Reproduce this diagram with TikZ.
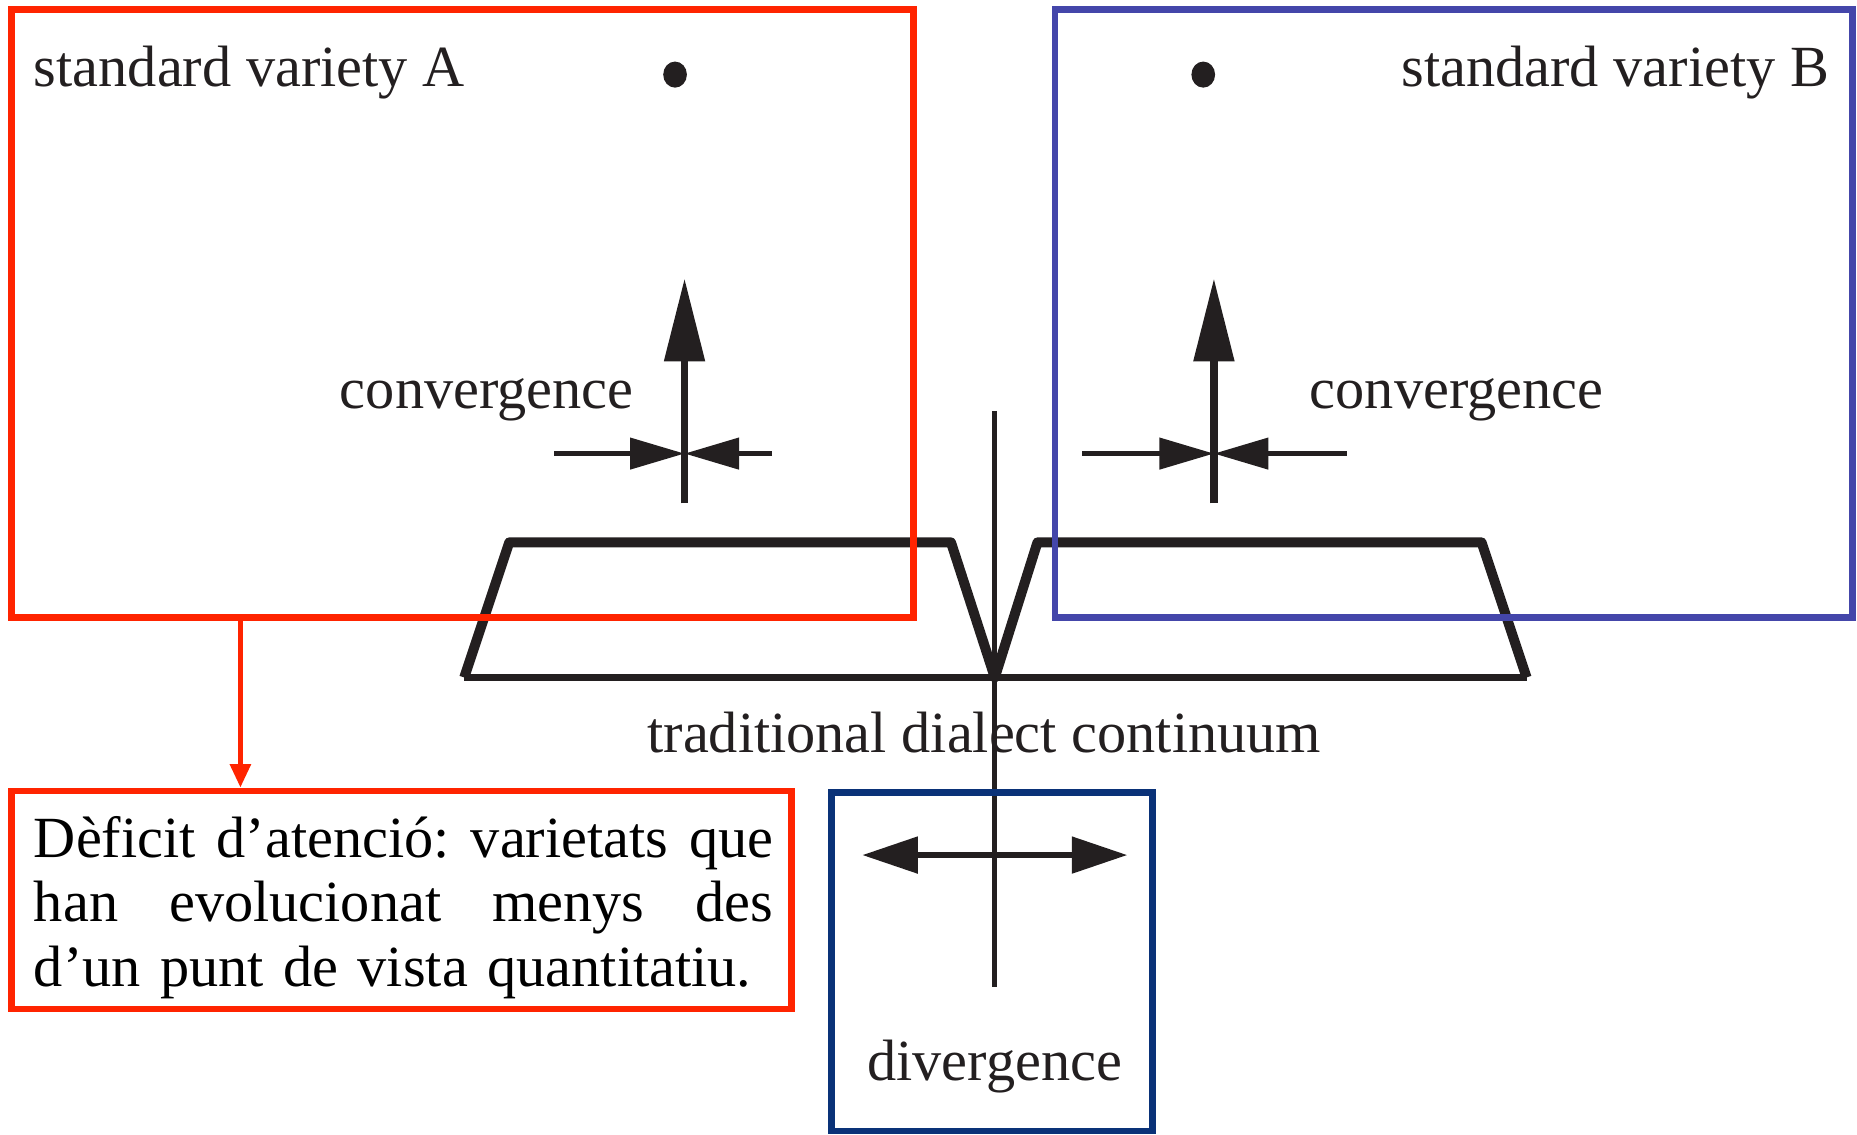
\documentclass[tikz,border=0pt]{standalone}
\usepackage{fontspec}
\setmainfont{Liberation Serif}
\usetikzlibrary{arrows.meta}

\definecolor{boxred}{RGB}{255,36,0}
\definecolor{boxblue}{RGB}{68,70,170}
\definecolor{boxnavy}{RGB}{10,50,120}
\definecolor{ink}{RGB}{35,31,32}

\begin{document}
\begin{tikzpicture}[x=0.01cm, y=-0.01cm,
    lbl/.style={font=\fontsize{14}{16}\selectfont, text=ink, inner sep=0pt},
    frame/.style={draw, line width=1.6pt, inner sep=0pt},
    rise/.style={ink, line width=1.9pt, -{Triangle[length=0.7cm, width=0.33cm]}},
    squeeze/.style={ink, line width=1.2pt, -{Triangle[length=0.46cm, width=0.26cm]}},
    spread/.style={ink, line width=1.6pt, {Triangle[length=0.47cm, width=0.3cm]}-{Triangle[length=0.47cm, width=0.3cm]}},
    pointer/.style={boxred, line width=1.3pt, -{Triangle[length=0.2cm, width=0.17cm]}}]
  \useasboundingbox (0,0) rectangle (1568,958);

  \coordinate (crossA) at (578,383);
  \coordinate (crossB) at (1025,383);
  \coordinate (crossD) at (840,722);
  \coordinate (drop) at (203,0);

  \draw[ink, line width=2.4pt, line join=round] (392,572) -- (430,458) -- (803,458) -- (840,572) -- (876,458) -- (1251,458) -- (1289,572);
  \draw[ink, line width=1.7pt] (392,572) -- (1289,572);
  \draw[ink, line width=1.2pt] (840,347) -- (840,833);

  \fill[ink] (570,63) ellipse [x radius=0.1cm, y radius=0.11cm];
  \fill[ink] (1016,63) ellipse [x radius=0.1cm, y radius=0.11cm];

  \draw[rise] (crossA) ++(0,42) -- ++(0,-190);
  \draw[squeeze] (crossA) ++(-110,0) -- (crossA);
  \draw[squeeze] (crossA) ++(74,0) -- (crossA);
  \draw[rise] (crossB) ++(0,42) -- ++(0,-190);
  \draw[squeeze] (crossB) ++(-111,0) -- (crossB);
  \draw[squeeze] (crossB) ++(112,0) -- (crossB);
  \draw[spread] (crossD) ++(-112,0) -- ++(224,0);

  \node[lbl, anchor=base west] (stdA) at (28,73) {standard variety A};
  \node[lbl, anchor=base east] (stdB) at (1545,73) {standard variety B};
  \node[lbl, anchor=base] (convA) at (411,345) {convergence};
  \node[lbl, anchor=base] (convB) at (1230,345) {convergence};
  \node[lbl, anchor=base] (continuum) at (831,635) {traditional dialect continuum};
  \node[lbl, anchor=base] (diverg) at (840,912) {divergence};

  \node[frame, draw=boxred, minimum width=7.61cm, minimum height=5.13cm] (boxA) at (390.5,264.5) {};
  \node[frame, draw=boxblue, minimum width=6.73cm, minimum height=5.13cm] (boxB) at (1227.5,264.5) {};
  \node[frame, draw=boxnavy, minimum width=2.71cm, minimum height=2.86cm] (boxD) at (837.5,812) {};
  \node[frame, draw=boxred, minimum width=6.58cm, minimum height=1.84cm] (deficit) at (339,760) {};
  \node[lbl, text=black, anchor=base west, text width=6.24cm, align=left,
        font=\fontsize{14}{15.45}\selectfont] (deficittext) at (28,724)
    {\makebox[6.24cm][l]{Dèficit\hfill d’atenció:\hfill varietats\hfill que}\\
     \makebox[6.24cm][l]{han\hfill evolucionat\hfill menys\hfill des}\\
     d’un punt de vista quantitatiu.};

  \draw[pointer] (boxA.south -| drop) -- (deficit.north -| drop);
\end{tikzpicture}
\end{document}
